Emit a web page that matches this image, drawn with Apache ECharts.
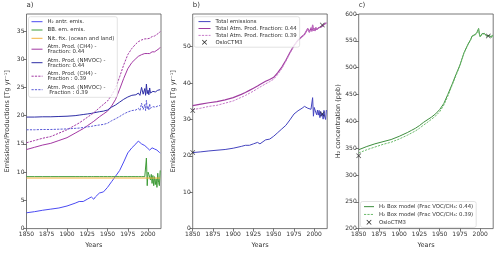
<!DOCTYPE html>
<html>
<head>
<meta charset="utf-8">
<script src="https://cdn.jsdelivr.net/npm/echarts@6/dist/echarts.min.js"></script>
<style>
html, body { margin: 0; padding: 0; background: #fff; }
#chart { width: 500px; height: 254px; }
</style>
</head>
<body>
<div id="chart"></div>
<script>
// years sampled from the figure (denser where the curves are noisy)
const years = [1850, 1860, 1870, 1880, 1890, 1900, 1910, 1915, 1920, 1925, 1930, 1933, 1935,
  1940, 1945, 1950, 1955, 1960, 1965, 1970, 1975, 1980, 1985, 1988, 1990, 1992, 1994, 1996,
  1997, 1998, 1999, 2000, 2001, 2002, 2003, 2004, 2005, 2006, 2007, 2008, 2009, 2010, 2011,
  2012, 2013, 2014, 2015];

// panel a) [Tg/yr]
const antrEmis = [2.8, 3.0, 3.25, 3.45, 3.65, 4.0, 4.5, 4.8, 4.8, 5.2, 5.6, 5.2, 5.6,
  6.3, 6.5, 7.3, 8.3, 9.3, 10.3, 11.8, 13.4, 14.3, 15.0, 15.5, 15.3, 15.0, 14.9, 14.7,
  14.8, 14.5, 14.3, 14.4, 14.1, 13.9, 13.8, 14.1, 14.3, 14.2, 14.0, 14.1, 14.2, 14.0, 13.9,
  13.8, 13.6, 13.5, 13.4];
const bbEmis = [9.2, 9.2, 9.2, 9.2, 9.2, 9.2, 9.2, 9.2, 9.2, 9.2, 9.2, 9.2, 9.2,
  9.2, 9.2, 9.2, 9.2, 9.2, 9.2, 9.2, 9.2, 9.2, 9.2, 9.2, 9.2, 9.2, 9.2, 9.2,
  9.2, 12.5, 7.6, 10.0, 9.6, 9.9, 8.6, 9.6, 8.0, 9.4, 7.6, 9.2, 7.8, 8.8, 7.3,
  9.8, 8.2, 7.6, 10.3];
const nitFixYears = [1850, 2015];
const nitFix = [8.95, 8.95];
const ch4Prod044 = [14.0, 14.4, 14.8, 15.1, 15.6, 16.1, 16.9, 17.3, 17.7, 18.2, 18.7, 19.0, 19.2,
  19.8, 20.3, 20.8, 21.7, 22.9, 24.7, 26.6, 28.3, 29.4, 30.1, 30.5, 30.7, 30.8, 30.9, 31.0,
  31.0, 31.0, 31.0, 31.1, 31.0, 31.0, 31.1, 31.2, 31.3, 31.3, 31.3, 31.3, 31.4, 31.5, 31.6,
  31.7, 31.8, 31.9, 32.1];
const nmvocProd044 = [19.75, 19.75, 19.8, 19.8, 19.85, 19.9, 20.0, 20.1, 20.2, 20.3, 20.4, 20.5, 20.6,
  20.7, 20.8, 21.0, 21.5, 21.9, 22.4, 22.9, 23.3, 23.6, 23.7, 24.0, 23.6, 25.0, 23.8, 24.8,
  23.6, 25.6, 23.9, 24.5, 23.7, 24.9, 24.0, 24.2, 24.1, 24.3, 24.2, 24.3, 24.2, 24.4, 24.3,
  24.5, 24.4, 24.6, 24.6];
const ch4Prod039 = [15.2, 15.6, 16.0, 16.3, 16.9, 17.5, 18.3, 18.7, 19.2, 19.7, 20.2, 20.5, 20.8,
  21.4, 22.0, 22.6, 23.6, 24.9, 26.9, 29.0, 30.8, 31.9, 32.7, 33.1, 33.3, 33.4, 33.5, 33.6,
  33.6, 33.6, 33.6, 33.7, 33.7, 33.7, 33.8, 33.9, 34.0, 34.0, 34.0, 34.1, 34.1, 34.2, 34.4,
  34.5, 34.6, 34.7, 34.9];
const nmvocProd039 = [17.5, 17.5, 17.55, 17.55, 17.6, 17.65, 17.75, 17.8, 17.9, 18.0, 18.1, 18.2, 18.25,
  18.35, 18.45, 18.65, 19.1, 19.45, 19.85, 20.3, 20.65, 20.9, 21.0, 21.3, 20.9, 22.2, 21.1, 22.0,
  20.9, 22.7, 21.2, 21.7, 21.0, 22.1, 21.3, 21.5, 21.4, 21.6, 21.5, 21.6, 21.5, 21.6, 21.6,
  21.7, 21.6, 21.8, 21.8];

// panel b) [Tg/yr]
const totalEmis = [20.9, 21.1, 21.35, 21.55, 21.75, 22.1, 22.6, 22.9, 22.9, 23.3, 23.7, 23.3, 23.7,
  24.4, 24.6, 25.4, 26.4, 27.4, 28.4, 29.9, 31.5, 32.4, 33.1, 33.6, 33.4, 33.1, 33.0, 32.8,
  32.9, 36.0, 30.9, 33.3, 32.6, 32.7, 31.3, 32.6, 31.2, 32.5, 30.5, 32.2, 30.9, 31.7, 30.1,
  32.5, 30.7, 30.0, 32.6];
const totalProd044 = [33.8, 34.2, 34.6, 34.9, 35.4, 36.0, 36.9, 37.4, 38.0, 38.6, 39.2, 39.6, 39.9,
  40.5, 41.0, 41.6, 42.9, 44.4, 46.3, 48.4, 50.3, 51.8, 52.8, 53.4, 53.8, 55.0, 54.0, 55.2,
  54.3, 56.0, 54.4, 55.0, 54.4, 55.3, 54.7, 55.0, 55.0, 55.3, 55.3, 55.5, 55.5, 55.8, 55.8,
  56.1, 56.1, 56.4, 56.6];
const totalProd039 = [32.7, 33.1, 33.6, 33.9, 34.5, 35.1, 36.1, 36.6, 37.2, 37.8, 38.5, 38.9, 39.2,
  39.8, 40.4, 41.1, 42.4, 44.0, 46.0, 48.2, 50.2, 51.7, 52.7, 53.3, 53.7, 54.9, 53.9, 55.1,
  54.2, 55.9, 54.3, 54.9, 54.3, 55.2, 54.6, 54.9, 54.9, 55.2, 55.2, 55.4, 55.4, 55.7, 55.7,
  56.0, 56.0, 56.3, 56.5];
const osloYearsB = [1850, 1850, 2010, 2010];
const osloB = [20.9, 32.5, 31.5, 56.0];

// panel c) [ppb]
const box044 = [347, 353, 358, 362, 366, 372, 379, 383, 387, 392, 398, 401, 401,
  408, 414, 422, 433, 450, 468, 487, 505, 528, 544, 552, 559, 561, 562, 566,
  566, 573, 562, 558, 560, 563, 562, 565, 564, 561, 563, 559, 561, 557, 560,
  557, 558, 557, 561];
const box039 = [341, 347, 352, 357, 361, 367, 374, 378, 382, 387, 393, 396, 397,
  404, 410, 418, 430, 447, 466, 485, 504, 527, 543, 551, 558, 560, 561, 565,
  565, 572, 561, 557, 559, 562, 561, 564, 563, 560, 562, 558, 560, 556, 559,
  556, 557, 556, 560];
const osloYearsC = [1850, 2010];
const osloC = [336, 559];

// tick labels
const xTicks = [1850, 1875, 1900, 1925, 1950, 1975, 2000];
const yTicksA = [0, 5, 10, 15, 20, 25, 30, 35];
const yTicksB = [0, 10, 20, 30, 40, 50];
const yTicksC = [200, 250, 300, 350, 400, 450, 500, 550, 600];

const FONT = "DejaVu Sans";
const TXT = "#333";
const FRAME = "#555";
const crossPath = "path://M0,1L1,0L5,4L9,0L10,1L6,5L10,9L9,10L5,6L1,10L0,9L4,5Z";

function pairs(xs, vals) {
  return xs.map((x, i) => [x, vals[i]]);
}

const gridLefts = [26.5, 192.7, 358.7];

function xAxisFor(i) {
  return {
    type: "value",
    gridIndex: i,
    min: 1850,
    max: 2016,
    axisLine: { show: false },
    axisTick: { length: 3, lineStyle: { color: FRAME, width: 0.8 }, customValues: xTicks },
    axisLabel: {
      customValues: xTicks,
      formatter: (v) => String(v),
      fontSize: 6,
      color: TXT,
      fontFamily: FONT,
      margin: 2.5,
    },
    splitLine: { show: false },
    name: "Years",
    nameLocation: "middle",
    nameGap: 13,
    nameTextStyle: { fontSize: 6.5, color: TXT, fontFamily: FONT },
  };
}

function yAxisFor(i, min, max, ticks, name) {
  return {
    type: "value",
    gridIndex: i,
    min,
    max,
    axisLine: { show: false },
    axisTick: { length: 3, lineStyle: { color: FRAME, width: 0.8 }, customValues: ticks },
    axisLabel: { customValues: ticks, fontSize: 6, color: TXT, fontFamily: FONT, margin: 2 },
    splitLine: { show: false },
    name,
    nameLocation: "middle",
    nameGap: 16,
    nameTextStyle: { fontSize: 6.5, color: TXT, fontFamily: FONT },
  };
}

function line(name, idx, xs, vals, color, dashed, width) {
  return {
    name,
    type: "line",
    xAxisIndex: idx,
    yAxisIndex: idx,
    data: pairs(xs, vals),
    symbol: "none",
    showSymbol: false,
    lineStyle: { color, width: width || 1, type: dashed ? [2.2, 1.2] : "solid" },
    itemStyle: { color },
  };
}

function scatter(idx, xs, vals) {
  return {
    name: "OsloCTM3",
    type: "scatter",
    xAxisIndex: idx,
    yAxisIndex: idx,
    data: pairs(xs, vals),
    symbol: crossPath,
    symbolSize: 5,
    symbolKeepAspect: true,
    itemStyle: { color: "#222" },
    z: 5,
  };
}

// line handles only: hide the dot echarts puts on line legend icons,
// but keep the cross marker for OsloCTM3
function legendBox(left, top, names, gap, lineH, pad, itemWidth) {
  return {
    left,
    top,
    orient: "vertical",
    selectedMode: false,
    padding: pad,
    itemGap: gap,
    itemWidth,
    itemHeight: 5,
    itemStyle: { opacity: 0 },
    lineStyle: { width: 1 },
    textStyle: { fontSize: 5.4, lineHeight: lineH, color: TXT, fontFamily: FONT },
    borderColor: "#d0d0d0",
    borderWidth: 0.6,
    borderRadius: 2,
    backgroundColor: "rgba(255,255,255,0.8)",
    data: names.map((n) =>
      n === "OsloCTM3"
        ? { name: n, itemStyle: { opacity: 1, color: "#222" }, icon: crossPath }
        : { name: n }
    ),
  };
}

const nA = {
  antr: "H\u2082 antr. emis.",
  bb: "BB. em. emis.",
  nit: "Nit. fix. (ocean and land)",
  ch44: "Atm. Prod. (CH4) -\nFraction: 0.44",
  voc44: "Atm. Prod. (NMVOC) -\nFraction: 0.44",
  ch39: "Atm. Prod. (CH4) -\nFraction : 0.39",
  voc39: "Atm. Prod. (NMVOC) -\n Fraction : 0.39",
};
const nB = {
  emis: "Total emissions",
  p44: "Total Atm. Prod. Fraction: 0.44",
  p39: "Total Atm. Prod. Fraction: 0.39",
};
const nC = {
  b44: "H\u2082 Box model (Frac VOC/CH\u2084: 0.44)",
  b39: "H\u2082 Box model (Frac VOC/CH\u2084: 0.39)",
};

const option = {
  animation: false,
  backgroundColor: "#fff",
  title: ["a)", "b)", "c)"].map((t, i) => ({
    text: t,
    left: gridLefts[i],
    top: 1.5,
    padding: 0,
    textStyle: { fontSize: 7, fontWeight: "normal", color: TXT, fontFamily: FONT },
  })),
  grid: gridLefts.map((l) => ({
    left: l,
    top: 14,
    width: 134.5,
    height: 217,
    show: true,
    borderColor: FRAME,
    borderWidth: 0.8,
    backgroundColor: "transparent",
  })),
  legend: [
    legendBox(28.5, 16.7, Object.values(nA), 3.1, 5.2, [2.4, 3, 2.4, 2.5], 11),
    legendBox(194, 16.7, [nB.emis, nB.p44, nB.p39, "OsloCTM3"], 1.9, 5, [2.4, 3, 2.4, 4], 12),
    legendBox(360.5, 201.5, [nC.b44, nC.b39, "OsloCTM3"], 2.3, 5.5, [2.4, 3, 2.4, 3], 10),
  ],
  xAxis: [xAxisFor(0), xAxisFor(1), xAxisFor(2)],
  yAxis: [
    yAxisFor(0, 0, 38, yTicksA, "Emissions/Productions [Tg yr\u207B\u00B9]"),
    yAxisFor(1, 0, 59, yTicksB, "Emissions/Productions [Tg yr\u207B\u00B9]"),
    yAxisFor(2, 200, 600, yTicksC, "H\u2082 concentration (ppb)"),
  ],
  series: [
    line(nA.antr, 0, years, antrEmis, "#4b4bf2"),
    line(nA.bb, 0, years, bbEmis, "#3f9c38"),
    line(nA.nit, 0, nitFixYears, nitFix, "#f3b23f"),
    line(nA.ch44, 0, years, ch4Prod044, "#a338a3"),
    line(nA.voc44, 0, years, nmvocProd044, "#2e2ea6"),
    line(nA.ch39, 0, years, ch4Prod039, "#a338a3", true),
    line(nA.voc39, 0, years, nmvocProd039, "#5a5ad6", true),

    line(nB.emis, 1, years, totalEmis, "#4444bf"),
    line(nB.p44, 1, years, totalProd044, "#a03ca0", false, 1.2),
    line(nB.p39, 1, years, totalProd039, "#c77ac9", true),
    scatter(1, osloYearsB, osloB),

    line(nC.b44, 2, years, box044, "#3e8e3e"),
    line(nC.b39, 2, years, box039, "#6cbb6c", true),
    scatter(2, osloYearsC, osloC),
  ],
};

const myChart = echarts.init(document.getElementById("chart"), null, { renderer: "canvas" });
myChart.setOption(option);
</script>
</body>
</html>
